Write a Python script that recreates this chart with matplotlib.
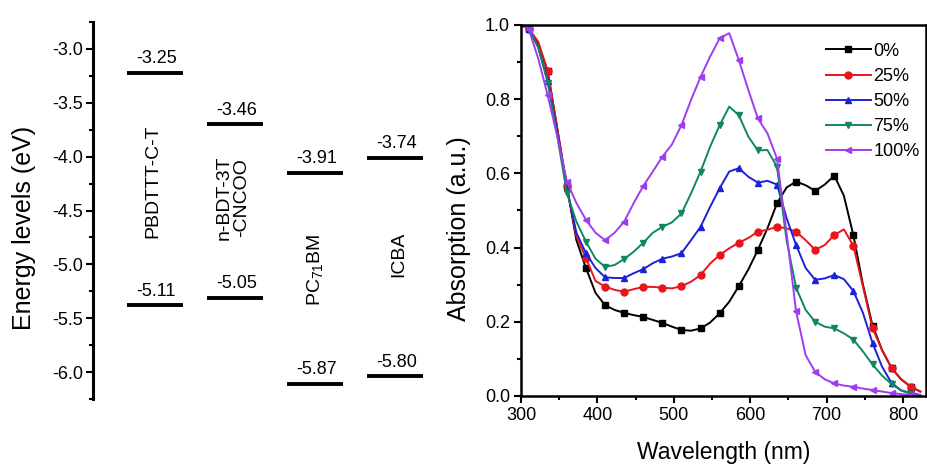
"""Energy level diagram + UV-vis absorption of blend films."""

import matplotlib
matplotlib.use('Agg')
import matplotlib.pyplot as plt
from matplotlib.ticker import MultipleLocator, FormatStrFormatter

plt.rcParams['font.family'] = ['Liberation Sans', 'DejaVu Sans']
plt.rcParams['mathtext.fontset'] = 'custom'
plt.rcParams['mathtext.rm'] = 'Liberation Sans'
plt.rcParams['mathtext.it'] = 'Liberation Sans'
plt.rcParams['axes.unicode_minus'] = False

# ---- energy levels (left panel) ----
materials = ['PBDTTT-C-T', 'n-BDT-3T\n-CNCOO', 'PC$_{71}$BM', 'ICBA']
lumo_labels = ['-3.25', '-3.46', '-3.91', '-3.74']
homo_labels = ['-5.11', '-5.05', '-5.87', '-5.80']
# where the bars sit on the drawn energy axis (eV)
lumo_level = [-3.22, -3.70, -4.15, -4.01]
homo_level = [-5.38, -5.31, -6.11, -6.04]

# ---- absorption spectra (right panel) ----
wavelength = [300, 310, 322.5, 335, 347.5, 360, 372.5, 385, 397.5, 410,
              422.5, 435, 447.5, 460, 472.5, 485, 497.5, 510, 522.5, 535,
              547.5, 560, 572.5, 585, 597.5, 610, 622.5, 635, 647.5, 660,
              672.5, 685, 697.5, 710, 722.5, 735, 747.5, 760, 772.5, 785,
              797.5, 810, 822.5]
abs_0 = [1.0, 0.99, 0.95, 0.875, 0.72, 0.565, 0.42, 0.345, 0.278, 0.245,
         0.232, 0.224, 0.218, 0.213, 0.205, 0.197, 0.187, 0.178, 0.176, 0.182,
         0.198, 0.223, 0.254, 0.296, 0.341, 0.394, 0.452, 0.519, 0.562, 0.578,
         0.568, 0.553, 0.570, 0.594, 0.54, 0.433, 0.30, 0.19, 0.124, 0.075,
         0.045, 0.025, 0.012]
abs_25 = [1.0, 0.99, 0.955, 0.875, 0.72, 0.565, 0.43, 0.372, 0.31, 0.295,
          0.286, 0.281, 0.288, 0.294, 0.294, 0.292, 0.29, 0.296, 0.308, 0.326,
          0.357, 0.38, 0.398, 0.413, 0.426, 0.443, 0.448, 0.456, 0.452, 0.443,
          0.42, 0.394, 0.407, 0.434, 0.449, 0.405, 0.295, 0.183, 0.124, 0.075,
          0.045, 0.025, 0.012]
abs_50 = [1.0, 0.99, 0.94, 0.85, 0.71, 0.56, 0.44, 0.385, 0.345, 0.32,
          0.318, 0.318, 0.331, 0.342, 0.358, 0.37, 0.376, 0.385, 0.42, 0.456,
          0.51, 0.56, 0.605, 0.614, 0.591, 0.575, 0.58, 0.57, 0.48, 0.407,
          0.345, 0.313, 0.317, 0.326, 0.315, 0.283, 0.224, 0.143, 0.079, 0.035,
          0.015, 0.008, 0.003]
abs_75 = [1.0, 0.99, 0.94, 0.845, 0.70, 0.547, 0.47, 0.416, 0.37, 0.348,
          0.353, 0.369, 0.389, 0.413, 0.44, 0.456, 0.468, 0.492, 0.546, 0.605,
          0.672, 0.73, 0.78, 0.757, 0.699, 0.662, 0.663, 0.618, 0.42, 0.292,
          0.232, 0.2, 0.187, 0.182, 0.169, 0.152, 0.12, 0.085, 0.055, 0.032,
          0.015, 0.006, 0.002]
abs_100 = [1.0, 0.99, 0.91, 0.81, 0.70, 0.578, 0.52, 0.475, 0.44, 0.42,
           0.44, 0.47, 0.52, 0.566, 0.605, 0.645, 0.678, 0.73, 0.798, 0.86,
           0.915, 0.964, 0.978, 0.906, 0.825, 0.748, 0.708, 0.64, 0.44, 0.228,
           0.11, 0.065, 0.045, 0.034, 0.028, 0.025, 0.02, 0.016, 0.012, 0.008,
           0.005, 0.003, 0.002]
series_labels = ['0%', '25%', '50%', '75%', '100%']

fig = plt.figure(figsize=(9.27, 4.68), dpi=100)

# left panel: energy levels
ax1 = fig.add_axes([93 / 927, 69 / 468, 367 / 927, 377 / 468])
ax1.set_ylim(-6.25, -2.75)
ax1.set_xlim(-0.775, 3.81)
for s in ['top', 'right', 'bottom']:
    ax1.spines[s].set_visible(False)
ax1.spines['left'].set_linewidth(2.2)
ax1.set_xticks([])
ax1.yaxis.set_major_locator(MultipleLocator(0.5))
ax1.yaxis.set_minor_locator(MultipleLocator(0.25))
ax1.yaxis.set_major_formatter(FormatStrFormatter('%.1f'))
ax1.tick_params(axis='y', which='major', direction='out', length=5, width=1.5,
                labelsize=13, pad=2)
ax1.tick_params(axis='y', which='minor', direction='out', length=3, width=1.5)

half = 0.35
for i in range(len(materials)):
    for level, lab in ((lumo_level[i], lumo_labels[i]), (homo_level[i], homo_labels[i])):
        ax1.plot([i - half, i + half], [level, level], color='black', lw=2.8,
                 solid_capstyle='butt')
        ax1.annotate(lab, (i, level), xytext=(1, 4), textcoords='offset points',
                     ha='center', va='bottom', fontsize=13)

name_y = [-4.23, -4.38, -5.05, -4.91]
name_x = [-0.03, -0.03, 0.0, 0.04]
for i, name in enumerate(materials):
    ax1.text(i + name_x[i], name_y[i], name, rotation=90, ha='center',
             va='center', fontsize=14, linespacing=1.0)

fig.text(24 / 927, 1 - 228 / 468, 'Energy levels (eV)', rotation=90,
         ha='center', va='center', fontsize=18)

# right panel: absorption
ax2 = fig.add_axes([521 / 927, 72 / 468, 405 / 927, 371 / 468])
colors = ['#000000', '#e8141c', '#1c22d8', '#10875e', '#a03cf0']
markers = ['s', 'o', '^', 'v', '<']
for ys, c, m, lab in zip([abs_0, abs_25, abs_50, abs_75, abs_100], colors,
                         markers, series_labels):
    ax2.plot(wavelength, ys, color=c, lw=1.4, marker=m, markersize=5,
             markevery=(1, 2), label=lab)

ax2.set_xlim(300, 830)
ax2.set_ylim(0, 1.0)
ax2.xaxis.set_major_locator(MultipleLocator(100))
ax2.xaxis.set_minor_locator(MultipleLocator(50))
ax2.yaxis.set_major_locator(MultipleLocator(0.2))
ax2.yaxis.set_minor_locator(MultipleLocator(0.1))
ax2.yaxis.set_major_formatter(FormatStrFormatter('%.1f'))
for s in ax2.spines.values():
    s.set_linewidth(1.8)
ax2.tick_params(which='major', direction='out', length=5, width=1.5,
                labelsize=13, pad=3, top=False, right=False)
ax2.tick_params(which='minor', direction='out', length=3, width=1.5,
                top=False, right=False)

ax2.legend(loc='upper left', bbox_to_anchor=(0.752, 0.952), frameon=False,
           fontsize=13, handlelength=2.5, handletextpad=0.15,
           labelspacing=0.45, borderpad=0, borderaxespad=0)

fig.text(459 / 927, 1 - 229 / 468, 'Absorption (a.u.)', rotation=90,
         ha='center', va='center', fontsize=18)
fig.text(724 / 927, 1 - 453 / 468, 'Wavelength (nm)', ha='center',
         va='center', fontsize=16.5)

fig.savefig('out.png', dpi=100)
